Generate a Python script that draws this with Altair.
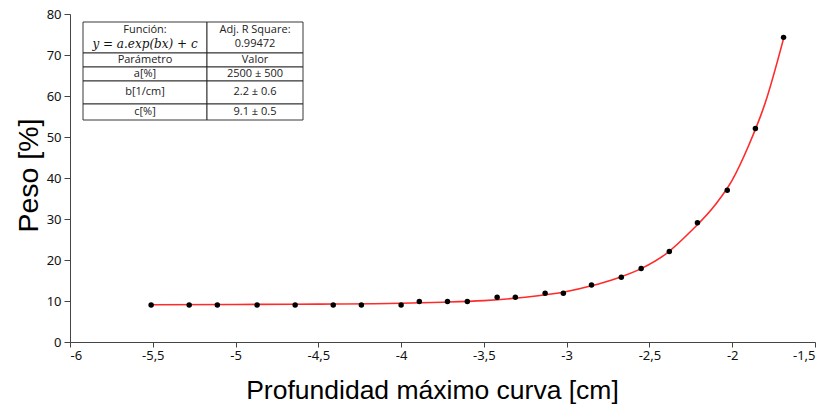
import altair as alt
import pandas as pd

x_pts = [-5.51, -5.28, -5.11, -4.87, -4.64, -4.41, -4.24, -4.00, -3.89, -3.72, -3.60,
         -3.42, -3.31, -3.13, -3.02, -2.85, -2.67, -2.55, -2.38, -2.21, -2.03, -1.86, -1.69]
y_pts = [9.0, 9.0, 9.0, 9.0, 9.0, 9.0, 9.0, 9.0, 9.9, 9.9, 9.9,
         10.9, 10.9, 11.9, 11.9, 13.9, 15.8, 17.9, 22.1, 29.1, 37.0, 52.1, 74.3]

# ---- fitted curve ----
fit_x = [-5.52, -5.0, -4.5, -4.0, -3.75, -3.5, -3.25, -3.0, -2.85, -2.7, -2.55,
         -2.4, -2.25, -2.1, -2.0, -1.9, -1.8, -1.69]
fit_y = [9.1, 9.15, 9.25, 9.45, 9.7, 10.1, 10.9, 12.3, 13.7, 15.5, 17.9,
         21.5, 27.0, 33.6, 39.5, 48.0, 58.4, 74.0]

x_ticks = [-6, -5.5, -5, -4.5, -4, -3.5, -3, -2.5, -2, -1.5]
y_ticks = [0, 10, 20, 30, 40, 50, 60, 70, 80]

# ---- inset table contents ----
tbl_left = ["Función:", "Parámetro", "a[%]", "b[1/cm]", "c[%]"]
tbl_right = ["Adj. R Square:", "0.99472", "Valor", "2500 ± 500", "2.2 ± 0.6", "9.1 ± 0.5"]
tbl_formula = ["y = a.exp(bx) + c"]
row_edges = [0, 31, 45, 59, 82, 98]
col_edges = [0, 124, 220]

pts = pd.DataFrame({"x": x_pts, "y": y_pts})
fit = pd.DataFrame({"x": fit_x, "y": fit_y})

xscale = alt.Scale(domain=[-6, -1.5], nice=False, zero=False)
yscale = alt.Scale(domain=[0, 80], nice=False)

label_font = "Noto Sans"
title_font = "Liberation Sans"

xaxis = alt.Axis(values=x_ticks, labelExpr="replace(datum.value + '', '.', ',')",
                 title="Profundidad máximo curva [cm]", grid=False,
                 domainColor="#444444", tickColor="#444444", tickSize=5,
                 labelFont=label_font, labelFontSize=13, labelColor="#111111", labelPadding=2,
                 titleFont=title_font, titleFontSize=26.5, titleFontWeight="normal", titleColor="#000000",
                 titleX=362, titleY=56, titleBaseline="alphabetic")
yaxis = alt.Axis(values=y_ticks, title="Peso [%]", grid=False,
                 domainColor="#444444", tickColor="#444444", tickSize=6,
                 labelFont=label_font, labelFontSize=13, labelColor="#111111", labelPadding=3,
                 titleFont=title_font, titleFontSize=28.5, titleFontWeight="normal", titleColor="#000000",
                 titleX=-33, titleY=161, titleAngle=-90, titleBaseline="alphabetic")

line = alt.Chart(fit).mark_line(color="#ff2a2a", strokeWidth=1.6, interpolate="monotone").encode(
    x=alt.X("x:Q", scale=xscale, axis=xaxis),
    y=alt.Y("y:Q", scale=yscale, axis=yaxis),
)
points = alt.Chart(pts).mark_circle(color="#000000", size=30, opacity=1).encode(
    x=alt.X("x:Q", scale=xscale),
    y=alt.Y("y:Q", scale=yscale),
)
main = alt.layer(line, points)

# ---- table built from the lists above ----
cells = []
for ci in range(2):
    for ri in range(len(row_edges) - 1):
        cells.append({"c0": col_edges[ci], "c1": col_edges[ci + 1],
                      "r0": row_edges[ri], "r1": row_edges[ri + 1]})
cells = pd.DataFrame(cells)

left_y = [8, 38, 52, 70, 90]
right_y = [8, 22, 38, 52, 70, 90]
lcx = (col_edges[0] + col_edges[1]) / 2
rcx = (col_edges[1] + col_edges[2]) / 2
texts = pd.DataFrame({"t": tbl_left + tbl_right,
                      "cx": [lcx] * len(tbl_left) + [rcx] * len(tbl_right),
                      "cy": left_y + right_y})
ftext = pd.DataFrame({"t": tbl_formula, "cx": [lcx], "cy": [22]})

tx = alt.Scale(domain=[0, 220], range=[13, 233])
ty = alt.Scale(domain=[0, 98], range=[8, 106])

rects = alt.Chart(cells).mark_rect(fill="white", stroke="#222222", strokeWidth=0.9).encode(
    x=alt.X("c0:Q", scale=tx, axis=None), x2="c1:Q",
    y=alt.Y("r0:Q", scale=ty, axis=None), y2="r1:Q",
)
tmarks = alt.Chart(texts).mark_text(font="Open Sans", fontSize=11, color="#222222").encode(
    x=alt.X("cx:Q", scale=tx, axis=None), y=alt.Y("cy:Q", scale=ty, axis=None), text="t:N")
fmarks = alt.Chart(ftext).mark_text(font="DejaVu Serif", fontSize=12, fontStyle="italic",
                                    color="#111111").encode(
    x=alt.X("cx:Q", scale=tx, axis=None), y=alt.Y("cy:Q", scale=ty, axis=None), text="t:N")
table = alt.layer(rects, tmarks, fmarks)

chart = alt.layer(main, table).resolve_scale(x="independent", y="independent").properties(
    width=745, height=328,
    padding={"left": 70, "top": 14, "right": 6, "bottom": 66},
    autosize=alt.AutoSizeParams(type="none"),
    background="white",
).configure_view(stroke=None)

chart.save("out.html", embed_options={"renderer": "svg", "actions": False})
